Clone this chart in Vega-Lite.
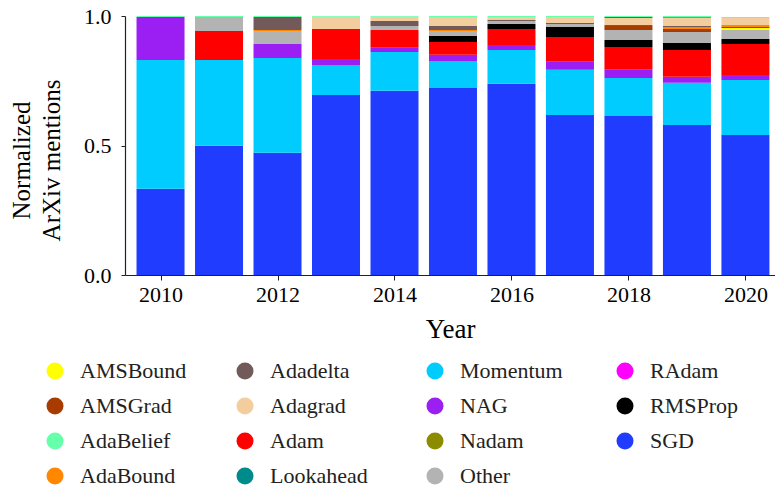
{
  "$schema": "https://vega.github.io/schema/vega-lite/v6.json",
  "width": 650,
  "height": 259,
  "autosize": {"type": "none"},
  "padding": {"left": 125, "top": 16, "right": 0, "bottom": 218},
  "background": "white",
  "config": {
    "view": {"stroke": null},
    "font": "Liberation Serif",
    "axis": {"labelFont": "Liberation Serif", "titleFont": "Liberation Serif", "titleFontWeight": "normal", "labelColor": "#000", "titleColor": "#000", "domainColor": "#222", "tickColor": "#222", "grid": false},
    "legend": {"labelFont": "Liberation Serif"}
  },
  "data": {"values": [
    {"year": 2010, "optimizer": "SGD", "share": 0.333},
    {"year": 2010, "optimizer": "Momentum", "share": 0.497},
    {"year": 2010, "optimizer": "NAG", "share": 0.166},
    {"year": 2010, "optimizer": "AdaBelief", "share": 0.004},
    {"year": 2011, "optimizer": "SGD", "share": 0.499},
    {"year": 2011, "optimizer": "Momentum", "share": 0.331},
    {"year": 2011, "optimizer": "Adam", "share": 0.112},
    {"year": 2011, "optimizer": "Other", "share": 0.054},
    {"year": 2011, "optimizer": "AdaBelief", "share": 0.004},
    {"year": 2012, "optimizer": "SGD", "share": 0.472},
    {"year": 2012, "optimizer": "Momentum", "share": 0.366},
    {"year": 2012, "optimizer": "NAG", "share": 0.054},
    {"year": 2012, "optimizer": "Other", "share": 0.050},
    {"year": 2012, "optimizer": "AdaBound", "share": 0.004},
    {"year": 2012, "optimizer": "Adadelta", "share": 0.050},
    {"year": 2012, "optimizer": "AdaBelief", "share": 0.004},
    {"year": 2013, "optimizer": "SGD", "share": 0.695},
    {"year": 2013, "optimizer": "Momentum", "share": 0.116},
    {"year": 2013, "optimizer": "NAG", "share": 0.023},
    {"year": 2013, "optimizer": "Adam", "share": 0.116},
    {"year": 2013, "optimizer": "Adagrad", "share": 0.047},
    {"year": 2013, "optimizer": "AdaBelief", "share": 0.003},
    {"year": 2014, "optimizer": "SGD", "share": 0.711},
    {"year": 2014, "optimizer": "Momentum", "share": 0.150},
    {"year": 2014, "optimizer": "NAG", "share": 0.016},
    {"year": 2014, "optimizer": "Adam", "share": 0.069},
    {"year": 2014, "optimizer": "Other", "share": 0.015},
    {"year": 2014, "optimizer": "Adadelta", "share": 0.020},
    {"year": 2014, "optimizer": "Adagrad", "share": 0.016},
    {"year": 2014, "optimizer": "AdaBelief", "share": 0.003},
    {"year": 2015, "optimizer": "SGD", "share": 0.722},
    {"year": 2015, "optimizer": "Momentum", "share": 0.104},
    {"year": 2015, "optimizer": "NAG", "share": 0.024},
    {"year": 2015, "optimizer": "Adam", "share": 0.050},
    {"year": 2015, "optimizer": "RMSProp", "share": 0.023},
    {"year": 2015, "optimizer": "Other", "share": 0.019},
    {"year": 2015, "optimizer": "AdaBound", "share": 0.004},
    {"year": 2015, "optimizer": "Adadelta", "share": 0.015},
    {"year": 2015, "optimizer": "Adagrad", "share": 0.035},
    {"year": 2015, "optimizer": "AdaBelief", "share": 0.004},
    {"year": 2016, "optimizer": "SGD", "share": 0.738},
    {"year": 2016, "optimizer": "Momentum", "share": 0.131},
    {"year": 2016, "optimizer": "NAG", "share": 0.019},
    {"year": 2016, "optimizer": "Adam", "share": 0.062},
    {"year": 2016, "optimizer": "RMSProp", "share": 0.019},
    {"year": 2016, "optimizer": "Other", "share": 0.012},
    {"year": 2016, "optimizer": "Adadelta", "share": 0.004},
    {"year": 2016, "optimizer": "Adagrad", "share": 0.011},
    {"year": 2016, "optimizer": "AdaBelief", "share": 0.004},
    {"year": 2017, "optimizer": "SGD", "share": 0.618},
    {"year": 2017, "optimizer": "Momentum", "share": 0.174},
    {"year": 2017, "optimizer": "NAG", "share": 0.031},
    {"year": 2017, "optimizer": "Adam", "share": 0.096},
    {"year": 2017, "optimizer": "RMSProp", "share": 0.039},
    {"year": 2017, "optimizer": "Other", "share": 0.011},
    {"year": 2017, "optimizer": "Adadelta", "share": 0.004},
    {"year": 2017, "optimizer": "Adagrad", "share": 0.023},
    {"year": 2017, "optimizer": "AdaBelief", "share": 0.004},
    {"year": 2018, "optimizer": "SGD", "share": 0.614},
    {"year": 2018, "optimizer": "Momentum", "share": 0.147},
    {"year": 2018, "optimizer": "NAG", "share": 0.031},
    {"year": 2018, "optimizer": "Adam", "share": 0.088},
    {"year": 2018, "optimizer": "RMSProp", "share": 0.027},
    {"year": 2018, "optimizer": "Other", "share": 0.039},
    {"year": 2018, "optimizer": "AMSGrad", "share": 0.015},
    {"year": 2018, "optimizer": "Adadelta", "share": 0.004},
    {"year": 2018, "optimizer": "Adagrad", "share": 0.027},
    {"year": 2018, "optimizer": "Lookahead", "share": 0.004},
    {"year": 2018, "optimizer": "AdaBelief", "share": 0.004},
    {"year": 2019, "optimizer": "SGD", "share": 0.579},
    {"year": 2019, "optimizer": "Momentum", "share": 0.163},
    {"year": 2019, "optimizer": "NAG", "share": 0.023},
    {"year": 2019, "optimizer": "Adam", "share": 0.104},
    {"year": 2019, "optimizer": "RMSProp", "share": 0.027},
    {"year": 2019, "optimizer": "Other", "share": 0.042},
    {"year": 2019, "optimizer": "AMSGrad", "share": 0.012},
    {"year": 2019, "optimizer": "AdaBound", "share": 0.008},
    {"year": 2019, "optimizer": "Adadelta", "share": 0.003},
    {"year": 2019, "optimizer": "Adagrad", "share": 0.031},
    {"year": 2019, "optimizer": "Nadam", "share": 0.002},
    {"year": 2019, "optimizer": "Lookahead", "share": 0.002},
    {"year": 2019, "optimizer": "AdaBelief", "share": 0.004},
    {"year": 2020, "optimizer": "SGD", "share": 0.541},
    {"year": 2020, "optimizer": "Momentum", "share": 0.212},
    {"year": 2020, "optimizer": "NAG", "share": 0.019},
    {"year": 2020, "optimizer": "Adam", "share": 0.120},
    {"year": 2020, "optimizer": "RMSProp", "share": 0.019},
    {"year": 2020, "optimizer": "Other", "share": 0.035},
    {"year": 2020, "optimizer": "AMSBound", "share": 0.008},
    {"year": 2020, "optimizer": "AMSGrad", "share": 0.004},
    {"year": 2020, "optimizer": "AdaBound", "share": 0.007},
    {"year": 2020, "optimizer": "Adagrad", "share": 0.027},
    {"year": 2020, "optimizer": "AdaBelief", "share": 0.004}
  ]},
  "transform": [
    {"calculate": "indexof(['SGD','Momentum','NAG','Adam','RMSProp','Other','AMSBound','AMSGrad','AdaBound','Adadelta','Adagrad','Nadam','Lookahead','RAdam','AdaBelief'], datum.optimizer)", "as": "stackRank"}
  ],
  "mark": {"type": "bar", "orient": "vertical", "width": 48},
  "encoding": {
    "x": {
      "field": "year", "type": "quantitative",
      "scale": {"domain": [2009.478, 2020.42], "nice": false, "zero": false},
      "axis": {"values": [2010, 2012, 2014, 2016, 2018, 2020], "format": "d", "title": "Year", "labelFontSize": 22, "titleFontSize": 27, "tickSize": 5, "labelPadding": 4, "titlePadding": 11, "labelFlush": false, "domainWidth": 1.2}
    },
    "y": {
      "field": "share", "type": "quantitative", "stack": "zero",
      "scale": {"domain": [0, 1], "nice": false},
      "axis": {"values": [0, 0.5, 1], "format": ".1f", "title": ["Normalized", "ArXiv mentions"], "labelFontSize": 22, "titleFontSize": 25, "titleLineHeight": 30, "tickSize": 4, "labelPadding": 10, "titleAngle": -90, "titleBaseline": "bottom", "titleAlign": "center", "titleX": -91, "titleY": 144, "domainWidth": 1.2}
    },
    "color": {
      "field": "optimizer", "type": "nominal",
      "scale": {
        "domain": ["AMSBound", "Adadelta", "Momentum", "RAdam", "AMSGrad", "Adagrad", "NAG", "RMSProp", "AdaBelief", "Adam", "Nadam", "SGD", "AdaBound", "Lookahead", "Other"],
        "range": ["#ffff00", "#735a5a", "#00ccff", "#ff00ff", "#a83c00", "#f3cd9d", "#9b1ff2", "#000000", "#66ffaa", "#ff0000", "#8c8c00", "#1f3cff", "#ff8800", "#008b8b", "#b3b3b3"]
      },
      "legend": {
        "title": null, "orient": "none", "legendX": -81, "legendY": 344,
        "direction": "horizontal", "columns": 4, "gridAlign": "all", "columnPadding": 47, "rowPadding": 13,
        "symbolType": "circle", "symbolSize": 290, "symbolStrokeWidth": 0, "labelFontSize": 22, "labelOffset": 14, "labelColor": "#222", "padding": 0, "labelLimit": 300
      }
    },
    "order": {"field": "stackRank", "type": "quantitative", "sort": "ascending"}
  }
}
